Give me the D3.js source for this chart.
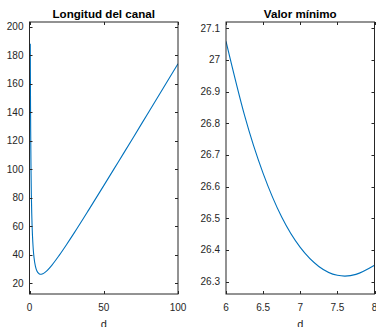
<!DOCTYPE html>
<html>
<head>
<meta charset="utf-8">
<script src="https://cdn.jsdelivr.net/npm/d3@7"></script>
<style>
  html, body { margin: 0; padding: 0; background: #fff; }
  svg { display: block; font-family: "Liberation Sans", Arial, Helvetica, sans-serif; }
</style>
</head>
<body>
<div id="chart"></div>
<script>
// Channel length vs d
const dLeft = [0.53, 0.6, 0.7, 0.8, 1, 1.25, 1.5, 2, 2.5, 3, 4, 5, 6, 7, 7.6, 8, 9, 10, 12, 15, 20, 25, 30, 40, 50, 60, 70, 80, 90, 100];
const lenLeft = [188, 167.7, 144.1, 126.4, 101.7, 82.2, 69.3, 53.5, 44.3, 38.5, 31.9, 28.65, 27.06, 26.41, 26.32, 26.35, 26.68, 27.3, 29.1, 32.6, 39.6, 47.25, 55.2, 71.7, 88.5, 105.5, 122.5, 139.7, 156.8, 174];

// Zoom around the minimum
const dRight = [6, 6.25, 6.5, 6.75, 7, 7.25, 7.5, 7.75, 8];
const lenRight = [27.059, 26.825, 26.642, 26.504, 26.408, 26.348, 26.32, 26.323, 26.352];

// Tick labels
const xTicksLeft = [0, 50, 100];
const yTicksLeft = [20, 40, 60, 80, 100, 120, 140, 160, 180, 200];
const xTicksRight = [6, 6.5, 7, 7.5, 8];
const yTicksRight = [26.3, 26.4, 26.5, 26.6, 26.7, 26.8, 26.9, 27, 27.1];

const titles = ["Longitud del canal", "Valor mínimo"];
const xLabel = "d";

const width = 376, height = 327;
const plotTop = 22, plotBottom = 294;
const tickLen = 3;
const axisColor = "#262626";
const lineColor = "#0072BD";

const svg = d3.select("#chart").append("svg")
    .attr("width", width)
    .attr("height", height)
    .attr("viewBox", [0, 0, width, height]);

svg.append("rect").attr("width", width).attr("height", height).attr("fill", "#fff");

const panels = [
  { id: "a", left: 29.5, right: 178, xDomain: [0, 100], yDomain: [12.5, 203.3],
    xs: dLeft, ys: lenLeft, xTicks: xTicksLeft, yTicks: yTicksLeft, title: titles[0],
    curve: d3.curveMonotoneX },
  { id: "b", left: 226, right: 374.5, xDomain: [6, 8], yDomain: [26.261, 27.12],
    xs: dRight, ys: lenRight, xTicks: xTicksRight, yTicks: yTicksRight, title: titles[1],
    curve: d3.curveNatural }
];

panels.forEach(p => {
  const x = d3.scaleLinear().domain(p.xDomain).range([p.left, p.right]);
  const y = d3.scaleLinear().domain(p.yDomain).range([plotBottom, plotTop]);
  const g = svg.append("g");

  g.append("clipPath").attr("id", "clip-" + p.id)
    .append("rect")
      .attr("x", p.left).attr("y", plotTop)
      .attr("width", p.right - p.left).attr("height", plotBottom - plotTop);

  // curve
  const pts = p.xs.map((d, i) => [d, p.ys[i]]);
  g.append("path")
      .datum(pts)
      .attr("clip-path", `url(#clip-${p.id})`)
      .attr("fill", "none")
      .attr("stroke", lineColor)
      .attr("stroke-width", 1.1)
      .attr("d", d3.line().x(d => x(d[0])).y(d => y(d[1])).curve(p.curve));

  // box
  g.append("rect")
      .attr("x", p.left).attr("y", plotTop)
      .attr("width", p.right - p.left).attr("height", plotBottom - plotTop)
      .attr("fill", "none")
      .attr("stroke", axisColor)
      .attr("stroke-width", 1);

  // x ticks (bottom and top, inward)
  p.xTicks.forEach(t => {
    const px = Math.round(x(t)) + 0.5;
    g.append("line").attr("x1", px).attr("x2", px).attr("y1", plotBottom).attr("y2", plotBottom - tickLen)
      .attr("stroke", axisColor);
    g.append("line").attr("x1", px).attr("x2", px).attr("y1", plotTop).attr("y2", plotTop + tickLen)
      .attr("stroke", axisColor);
    g.append("text")
      .attr("x", x(t)).attr("y", 311.3)
      .attr("text-anchor", "middle")
      .attr("font-size", 10)
      .attr("fill", axisColor)
      .text(t);
  });

  // y ticks (left and right, inward)
  p.yTicks.forEach(t => {
    const py = Math.round(y(t)) + 0.5;
    g.append("line").attr("x1", p.left).attr("x2", p.left + tickLen).attr("y1", py).attr("y2", py)
      .attr("stroke", axisColor);
    g.append("line").attr("x1", p.right).attr("x2", p.right - tickLen).attr("y1", py).attr("y2", py)
      .attr("stroke", axisColor);
    g.append("text")
      .attr("x", p.left - 6).attr("y", y(t))
      .attr("dy", "0.35em")
      .attr("text-anchor", "end")
      .attr("font-size", 10)
      .attr("fill", axisColor)
      .text(t);
  });

  g.append("text")
      .attr("x", (p.left + p.right) / 2).attr("y", 18.3)
      .attr("text-anchor", "middle")
      .attr("font-size", 11.6)
      .attr("font-weight", "bold")
      .attr("fill", "#000")
      .text(p.title);

  g.append("text")
      .attr("x", (p.left + p.right) / 2).attr("y", 327.5)
      .attr("text-anchor", "middle")
      .attr("font-size", 11)
      .attr("fill", axisColor)
      .text(xLabel);
});
</script>
</body>
</html>
